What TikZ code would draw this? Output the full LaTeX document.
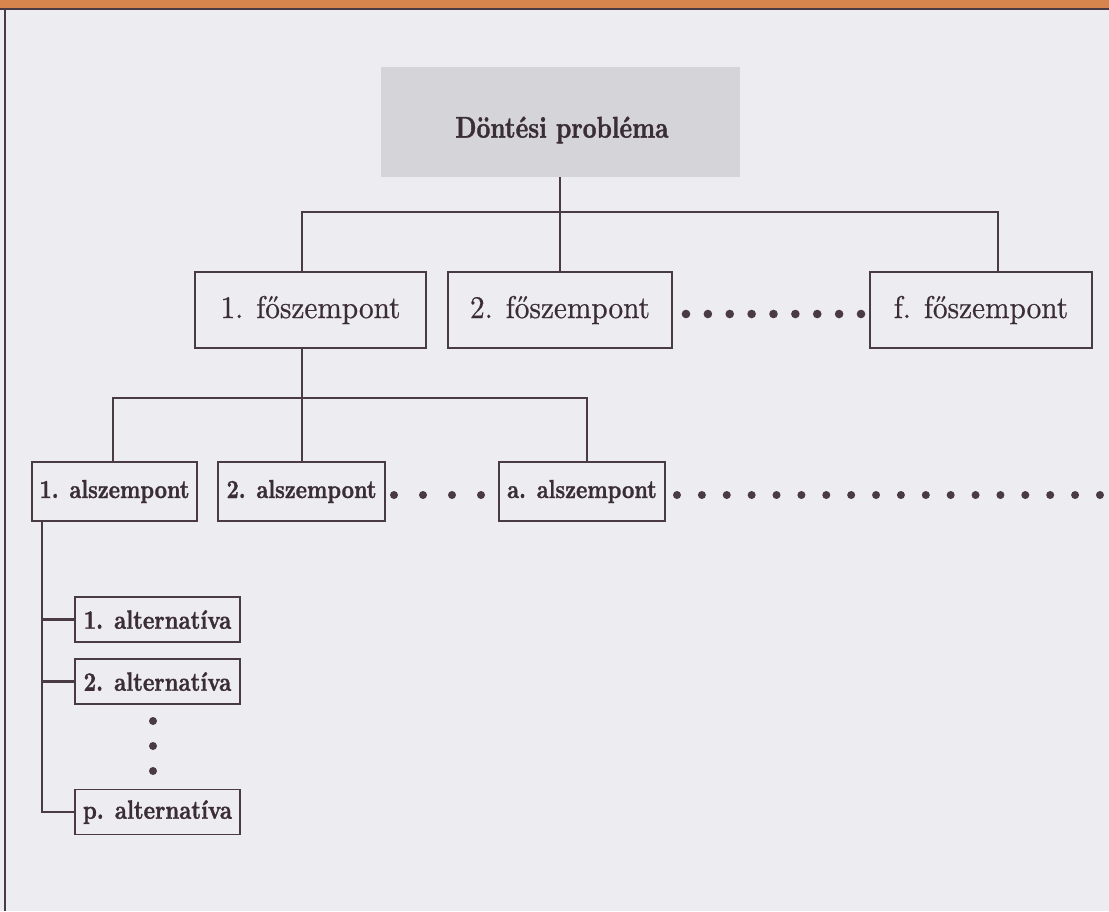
\documentclass[tikz,border=0pt]{standalone}
\usepackage{fontspec}
\newfontfamily\bxA{lmroman10-bold}[Extension=.otf, FakeStretch=0.80, FakeBold=1.2]
\newfontfamily\bxB{lmroman10-bold}[Extension=.otf, FakeStretch=0.82, FakeBold=1.2]
\newfontfamily\rmC{lmroman10-regular}[Extension=.otf, FakeStretch=0.93, FakeBold=0.6]
\definecolor{ink}{HTML}{4A3A43}
\definecolor{txt}{HTML}{3A2E34}
\definecolor{paper}{HTML}{EDECF0}
\definecolor{rootgray}{HTML}{D5D5D9}
\definecolor{band}{HTML}{D8854D}
\tikzset{
  conn/.style={draw=ink, line width=2.6pt},
  rootbox/.style={fill=rootgray, inner sep=0pt,
    minimum width=359pt, minimum height=110pt},
  roottxt/.style={text=txt, inner sep=0pt, font=\fontsize{30}{34}\bxA},
  fobox/.style={draw=ink, line width=1.5pt, text=txt, inner sep=0pt,
    font=\fontsize{31.5}{36}\rmC, minimum height=76pt},
  albox/.style={draw=ink, line width=1.5pt, text=txt, inner sep=0pt,
    font=\fontsize{26}{30}\bxB, minimum height=59pt},
  altbox/.style={draw=ink, line width=1.5pt, text=txt, inner sep=0pt,
    font=\fontsize{26.5}{30}\bxB, minimum width=165pt, minimum height=45pt},
  dotmark/.style={fill=ink}
}
\begin{document}
\begin{tikzpicture}[x=1pt,y=-1pt]
\useasboundingbox (0,0) rectangle (1109,911);
\fill[paper] (0,0) rectangle (1109,911);
\fill[band] (0,0) rectangle (1109,8);
\draw[ink, line width=1.5pt] (0,9) -- (1109,9);
\draw[ink, line width=1.8pt] (5,9) -- (5,911);

% nodes
\node[rootbox] (root) at (560,122) {};
\node[roottxt] (rtext) at (562,130) {Döntési probléma};
\node[fobox, minimum width=231pt] (f1) at (310.5,310) {1. főszempont};
\node[fobox, minimum width=224pt] (f2) at (560,310) {2. főszempont};
\node[fobox, minimum width=222pt] (f3) at (981,310) {f. főszempont};
\node[albox, minimum width=165pt] (a1) at (114.5,491.5) {1. alszempont};
\node[albox, minimum width=167pt] (a2) at (301.5,491.5) {2. alszempont};
\node[albox, minimum width=166pt] (aa) at (582,491.5) {a. alszempont};
\node[altbox] (b1) at (157.5,619.5) {1. alternatíva};
\node[altbox] (b2) at (157.5,681.5) {2. alternatíva};
\node[altbox] (bp) at (157.5,812) {p. alternatíva};

% junction coordinates
\coordinate (j1) at (302,212);
\coordinate (j3) at (998,212);
\coordinate (k1) at (113,398);
\coordinate (k2) at (302,398);
\coordinate (k3) at (587,398);
\coordinate (m) at (42,812);

% connectors
\draw[conn] (root.south) -- (f2.north);
\draw[conn] (f1.north -| j1) -- (j1) -- (j3) -- (f3.north -| j3);
\draw[conn] (f1.south -| k2) -- (a2.north -| k2);
\draw[conn] (a1.north -| k1) -- (k1) -- (k3) -- (aa.north -| k3);
\draw[conn] (a1.south -| m) -- (m) -- (bp.west);
\draw[conn] (b1.west -| m) -- (b1.west);
\draw[conn] (b2.west -| m) -- (b2.west);

% dots
\foreach \i in {0,...,8} \fill[dotmark] (686+21.875*\i,314) circle (4.3pt);
\foreach \x in {394,423,452,481} \fill[dotmark] (\x,495) circle (4pt);
\foreach \i in {0,...,17} \fill[dotmark] (677+24.88*\i,495) circle (4pt);
\foreach \y in {721,746,771} \fill[dotmark] (153,\y) circle (4pt);
\end{tikzpicture}
\end{document}
